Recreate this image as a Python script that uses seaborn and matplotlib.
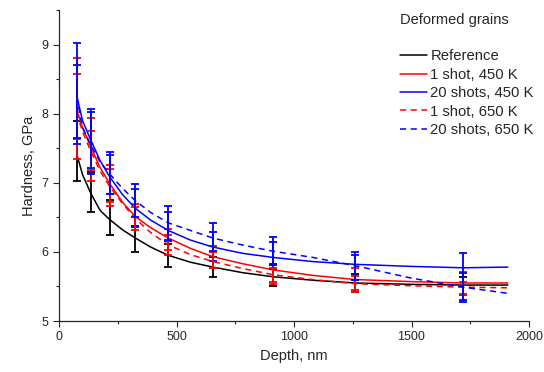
import numpy as np
import matplotlib
matplotlib.use("Agg")
import matplotlib.pyplot as plt
import seaborn as sns
from matplotlib.ticker import MultipleLocator

# depths of the indentation measurements (nm)
depth = [75, 135, 215, 325, 465, 655, 910, 1260, 1720]

# mean hardness and error at each depth (GPa)
ref_h = [7.46, 6.86, 6.50, 6.19, 5.95, 5.78, 5.66, 5.55, 5.50]
ref_err = [0.44, 0.29, 0.25, 0.19, 0.17, 0.14, 0.15, 0.13, 0.13]
s1_450_h = [8.08, 7.48, 6.96, 6.53, 6.18, 5.92, 5.70, 5.59, 5.55]
s1_450_err = [0.73, 0.46, 0.29, 0.17, 0.15, 0.16, 0.13, 0.17, 0.16]
s20_450_h = [8.29, 7.60, 7.14, 6.67, 6.37, 6.08, 5.95, 5.80, 5.63]
s20_450_err = [0.73, 0.47, 0.30, 0.31, 0.21, 0.21, 0.20, 0.20, 0.35]
s1_650_h = [8.10, 7.47, 6.96, 6.48, 6.10, 5.88, 5.65, 5.55, 5.47]
s1_650_err = [0.47, 0.28, 0.24, 0.17, 0.14, 0.12, 0.12, 0.10, 0.10]
s20_650_h = [8.18, 7.62, 7.12, 6.71, 6.42, 6.22, 6.02, 5.78, 5.50]
s20_650_err = [0.53, 0.40, 0.28, 0.20, 0.25, 0.20, 0.20, 0.18, 0.20]

# fitted curves, read along the depth axis
curve_depth = [75, 100, 135, 175, 215, 270, 325, 390, 465, 560, 655, 780, 910, 1080, 1260, 1500, 1720, 1910]
ref_fit = [7.42, 7.12, 6.85, 6.60, 6.47, 6.32, 6.20, 6.07, 5.95, 5.85, 5.78, 5.70, 5.64, 5.59, 5.55, 5.53, 5.52, 5.52]
s1_450_fit = [8.07, 7.80, 7.52, 7.22, 6.99, 6.72, 6.51, 6.35, 6.20, 6.05, 5.93, 5.83, 5.74, 5.66, 5.60, 5.57, 5.55, 5.55]
s20_450_fit = [8.27, 7.90, 7.62, 7.32, 7.09, 6.83, 6.63, 6.46, 6.31, 6.17, 6.07, 5.98, 5.92, 5.86, 5.82, 5.79, 5.77, 5.78]
s1_650_fit = [8.02, 7.74, 7.46, 7.17, 6.95, 6.70, 6.48, 6.28, 6.10, 5.96, 5.86, 5.76, 5.67, 5.60, 5.54, 5.51, 5.49, 5.48]
s20_650_fit = [8.25, 7.80, 7.55, 7.30, 7.13, 6.92, 6.74, 6.57, 6.42, 6.31, 6.20, 6.10, 6.01, 5.92, 5.80, 5.62, 5.49, 5.40]

labels = ["Reference", "1 shot, 450 K", "20 shots, 450 K", "1 shot, 650 K", "20 shots, 650 K"]

sns.set_style("ticks")
plt.rcParams["font.family"] = ["Liberation Sans", "DejaVu Sans"]

fig = plt.figure(figsize=(5.44, 3.72), dpi=100)
ax = fig.add_axes([59 / 544, 51 / 372, 470 / 544, 311 / 372])

series = [
    (ref_fit, ref_h, ref_err, "black", "-"),
    (s1_450_fit, s1_450_h, s1_450_err, "#ff0000", "-"),
    (s20_450_fit, s20_450_h, s20_450_err, "#0000ff", "-"),
    (s1_650_fit, s1_650_h, s1_650_err, "#ff0000", (0, (4, 3))),
    (s20_650_fit, s20_650_h, s20_650_err, "#0000ff", (0, (4, 3))),
]

for (fit, h, err, col, ls), lab in zip(series, labels):
    sns.lineplot(x=curve_depth, y=fit, color=col, linestyle=ls, linewidth=1.1,
                 label=lab, ax=ax)
    ax.errorbar(depth, h, yerr=err, fmt="none", ecolor=col, elinewidth=1.3,
                capsize=3, capthick=1.3)

ax.set_xlim(0, 2000)
ax.set_ylim(5, 9.5)
ax.xaxis.set_major_locator(MultipleLocator(500))
ax.xaxis.set_minor_locator(MultipleLocator(250))
ax.yaxis.set_major_locator(MultipleLocator(1))
ax.yaxis.set_minor_locator(MultipleLocator(0.5))
ax.tick_params(which="major", length=4, width=0.8, labelsize=9, direction="out")
ax.tick_params(which="minor", length=2.5, width=0.8, direction="out")
sns.despine(ax=ax)
for s in ["left", "bottom"]:
    ax.spines[s].set_linewidth(0.9)

ax.set_xlabel("Depth, nm", fontsize=10.5)
ax.set_ylabel("Hardness, GPa", fontsize=10.5)

leg = ax.legend(loc="upper left", bbox_to_anchor=(400 / 544, 1 - 13 / 372),
                bbox_transform=fig.transFigure, frameon=False, fontsize=10.7,
                title="Deformed grains\n", title_fontsize=10.5, alignment="left",
                handlelength=1.85, handletextpad=0.2, labelspacing=0.3,
                borderpad=0, borderaxespad=0)
leg.get_title().set_linespacing(1.35)

fig.savefig("out.png", dpi=100)
